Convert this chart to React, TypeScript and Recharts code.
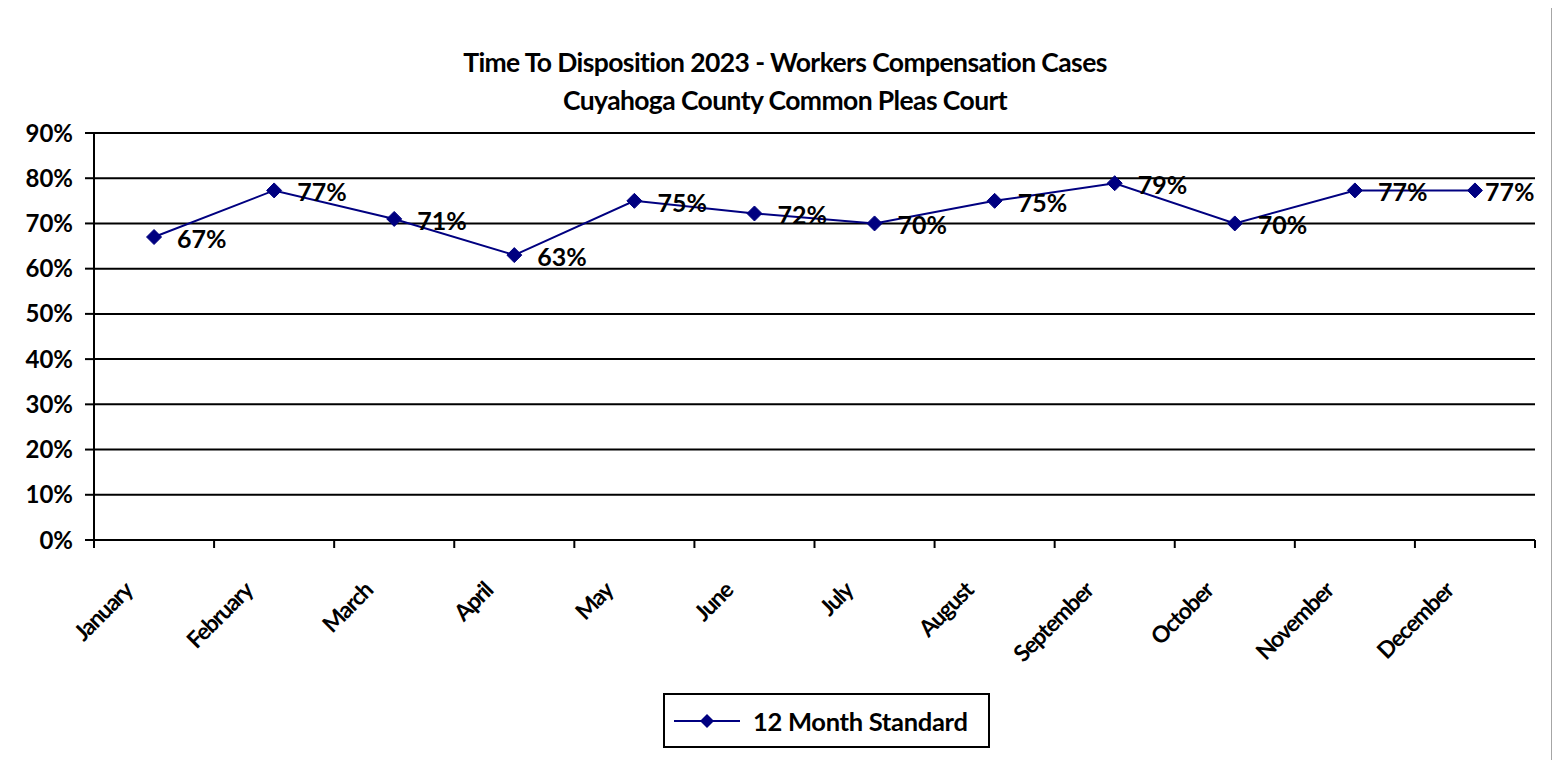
import React from "react";
import {
  LineChart,
  Line,
  XAxis,
  YAxis,
  CartesianGrid,
  Legend,
  LabelList,
} from "recharts";

const months = [
  "January",
  "February",
  "March",
  "April",
  "May",
  "June",
  "July",
  "August",
  "September",
  "October",
  "November",
  "December",
];
const standard12 = [67, 77.3, 71, 63, 75, 72.2, 70, 75, 78.9, 70, 77.3, 77.3];
const dataLabels = ["67%", "77%", "71%", "63%", "75%", "72%", "70%", "75%", "79%", "70%", "77%", "77%"];
const yTicks = [0, 10, 20, 30, 40, 50, 60, 70, 80, 90];
const seriesName = "12 Month Standard";
const titleLines = [
  "Time To Disposition 2023 - Workers Compensation Cases",
  "Cuyahoga County Common Pleas Court",
];

const data = months.map((m, i) => ({ month: m, value: standard12[i], label: dataLabels[i] }));

const FONT = "Lato, 'Open Sans', sans-serif";
const NAVY = "#000080";
const CHART_W = 1545;
const CHART_H = 760;
const MARGIN = { top: 126, right: 16, bottom: 0, left: 0 };
const PLOT_RIGHT = CHART_W - MARGIN.right;
const LABEL_W = 47;

const Diamond = (props: any) => {
  const { cx, cy } = props;
  if (cx == null || cy == null) return null;
  const r = 7.5;
  return (
    <polygon
      points={`${cx},${cy - r} ${cx + r},${cy} ${cx},${cy + r} ${cx - r},${cy}`}
      fill={NAVY}
      stroke={NAVY}
    />
  );
};

const XTick = (props: any) => {
  const { x, y, payload, index, visibleTicksCount } = props;
  const half = payload && payload.offset ? payload.offset : 60;
  const isLast = index === (visibleTicksCount ?? months.length) - 1;
  return (
    <g>
      <line x1={x - half} y1={y} x2={x - half} y2={y + 8} stroke="#000" strokeWidth={2} />
      {isLast && (
        <line x1={x + half} y1={y} x2={x + half} y2={y + 8} stroke="#000" strokeWidth={2} />
      )}
      <text
        x={x - 20}
        y={y + 52}
        textAnchor="end"
        transform={`rotate(-45, ${x - 20}, ${y + 52})`}
        fontFamily={FONT}
        fontWeight={700}
        fontSize={23}
        letterSpacing={-1.2}
        fill="#000"
      >
        {payload.value}
      </text>
    </g>
  );
};

const renderLabel = (props: any) => {
  const { x, y, value } = props;
  const lx = Math.min(x + 23, PLOT_RIGHT - LABEL_W - 3);
  return (
    <text
      x={lx}
      y={y + 11}
      fontFamily={FONT}
      fontWeight={700}
      fontSize={25}
      fill="#000"
    >
      {value}
    </text>
  );
};

const LegendBox = () => (
  <div
    style={{
      width: 327,
      height: 55,
      boxSizing: "border-box",
      border: "2px solid #000",
      display: "flex",
      alignItems: "center",
      background: "#fff",
    }}
  >
    <svg width={80} height={20} style={{ marginLeft: 7 }}>
      <line x1={2} y1={10} x2={68} y2={10} stroke={NAVY} strokeWidth={2} />
      <polygon points="35,3 42,10 35,17 28,10" fill={NAVY} />
    </svg>
    <span
      style={{
        fontFamily: FONT,
        fontWeight: 700,
        fontSize: 25.5,
        color: "#000",
        marginLeft: 1,
        letterSpacing: -0.3,
      }}
    >
      {seriesName}
    </span>
  </div>
);

export default function App() {
  return (
    <div
      style={{
        position: "relative",
        margin: "-2px 0 0 -3px",
        width: CHART_W,
        height: CHART_H,
        border: "1px solid #a6a6a6",
        background: "#fff",
      }}
    >
      <div
        style={{
          position: "absolute",
          left: 279,
          top: 36,
          width: 1000,
          textAlign: "center",
          fontFamily: FONT,
          fontWeight: 700,
          fontSize: 26.5,
          lineHeight: "38px",
          letterSpacing: -0.6,
          color: "#000",
          zIndex: 2,
        }}
      >
        {titleLines.map((t) => (
          <div key={t}>{t}</div>
        ))}
      </div>
      <LineChart width={CHART_W} height={CHART_H} data={data} margin={MARGIN}>
        <CartesianGrid horizontal vertical={false} stroke="#000" strokeWidth={2} />
        <XAxis
          dataKey="month"
          scale="band"
          height={227}
          interval={0}
          tickSize={0}
          tickMargin={0}
          tickLine={false}
          axisLine={{ stroke: "#000", strokeWidth: 2 }}
          tick={<XTick />}
        />
        <YAxis
          width={88}
          domain={[0, 90]}
          ticks={yTicks}
          interval={0}
          tickFormatter={(v: number) => `${v}%`}
          tickSize={9}
          tickMargin={12}
          axisLine={{ stroke: "#000", strokeWidth: 2 }}
          tickLine={{ stroke: "#000", strokeWidth: 2 }}
          tick={{ fontFamily: FONT, fontWeight: 700, fontSize: 24, fill: "#000" }}
        />
        <Legend
          layout="horizontal"
          verticalAlign="middle"
          align="center"
          wrapperStyle={{ left: 657, top: 686, width: 327, height: 55 }}
          content={() => <LegendBox />}
        />
        <Line
          type="linear"
          dataKey="value"
          name={seriesName}
          stroke={NAVY}
          strokeWidth={2}
          dot={<Diamond />}
          activeDot={false}
          isAnimationActive={false}
        >
          <LabelList dataKey="label" content={renderLabel} />
        </Line>
      </LineChart>
    </div>
  );
}
